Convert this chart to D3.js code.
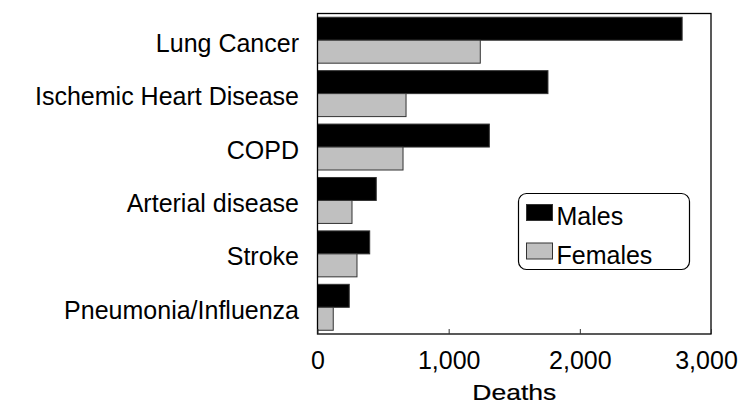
<!DOCTYPE html>
<html>
<head>
<meta charset="utf-8">
<script src="https://cdn.jsdelivr.net/npm/d3@7"></script>
<style>
  html, body { margin: 0; padding: 0; background: #fff; }
  svg { display: block; font-family: "Liberation Sans", Arial, sans-serif; }
</style>
</head>
<body>
<svg id="chart" width="743" height="404"></svg>
<script>
// data
const causes = ["Lung Cancer", "Ischemic Heart Disease", "COPD", "Arterial disease", "Stroke", "Pneumonia/Influenza"];
const males = [2780, 1757, 1310, 448, 398, 242];
const females = [1241, 675, 652, 263, 301, 120];
const series = ["Males", "Females"];
const xTicks = [0, 1000, 2000, 3000];

const svg = d3.select("#chart");
const plot = {left: 317.5, top: 13.5, right: 711, bottom: 334};

const x = d3.scaleLinear().domain([0, 3000]).range([plot.left, plot.right]);
const y = d3.scaleBand().domain(causes).range([plot.top, plot.bottom])
  .paddingInner(0.14).paddingOuter(0.07);
const ySub = d3.scaleBand().domain(series).range([0, y.bandwidth()]);
const fill = d3.scaleOrdinal().domain(series).range(["#000000", "#c0c0c0"]);

const rows = causes.map((c, i) => ({cause: c, Males: males[i], Females: females[i]}));

// bars
const g = svg.append("g");
g.selectAll("g.cause").data(rows).join("g")
  .attr("class", "cause")
  .attr("transform", d => `translate(0,${y(d.cause)})`)
  .selectAll("rect")
  .data(d => series.map(s => ({key: s, value: d[s]})))
  .join("rect")
  .attr("x", x(0))
  .attr("y", d => ySub(d.key))
  .attr("width", d => x(d.value) - x(0))
  .attr("height", ySub.bandwidth())
  .attr("fill", d => fill(d.key))
  .attr("stroke", "#333")
  .attr("stroke-width", 1);

// frame
svg.append("rect")
  .attr("x", plot.left).attr("y", plot.top)
  .attr("width", plot.right - plot.left).attr("height", plot.bottom - plot.top)
  .attr("fill", "none").attr("stroke", "#000").attr("stroke-width", 1.3);

// x axis
const xAxis = svg.append("g")
  .attr("transform", `translate(0,${plot.bottom})`)
  .call(d3.axisBottom(x).tickValues(xTicks).tickSizeInner(-5).tickSizeOuter(0)
    .tickPadding(17).tickFormat(d3.format(",")));
xAxis.select(".domain").remove();
xAxis.selectAll(".tick line").attr("stroke", "#333");
xAxis.selectAll(".tick text")
  .attr("font-size", 25).attr("fill", "#000")
  .attr("font-family", "Liberation Sans, Arial, sans-serif");
// last label sits a little left so it stays inside the window
xAxis.selectAll(".tick text").filter(d => d === 3000).attr("dx", -5);

svg.append("text")
  .attr("x", (plot.left + plot.right) / 2).attr("y", 400)
  .attr("text-anchor", "middle")
  .attr("font-size", 22)
  .attr("textLength", 84).attr("lengthAdjust", "spacingAndGlyphs")
  .attr("stroke", "#000").attr("stroke-width", 0.2)
  .text("Deaths");

// category labels
svg.append("g").selectAll("text").data(causes).join("text")
  .attr("x", 299)
  .attr("y", d => y(d) + y.bandwidth() / 2)
  .attr("dy", "0.46em")
  .attr("text-anchor", "end")
  .attr("font-size", 25)
  .text(d => d);

// legend
const lg = svg.append("g");
lg.append("rect")
  .attr("x", 518.5).attr("y", 193.5).attr("width", 171).attr("height", 76)
  .attr("rx", 8).attr("fill", "#fff").attr("stroke", "#000").attr("stroke-width", 1.2);
const item = lg.selectAll("g.item").data(series).join("g")
  .attr("class", "item")
  .attr("transform", (d, i) => `translate(526.5,${204.5 + i * 38.5})`);
item.append("rect")
  .attr("width", 26).attr("height", 16)
  .attr("fill", d => fill(d)).attr("stroke", "#333").attr("stroke-width", 1);
item.append("text")
  .attr("x", 30).attr("y", 20.5)
  .attr("font-size", 25)
  .text(d => d);
</script>
</body>
</html>
